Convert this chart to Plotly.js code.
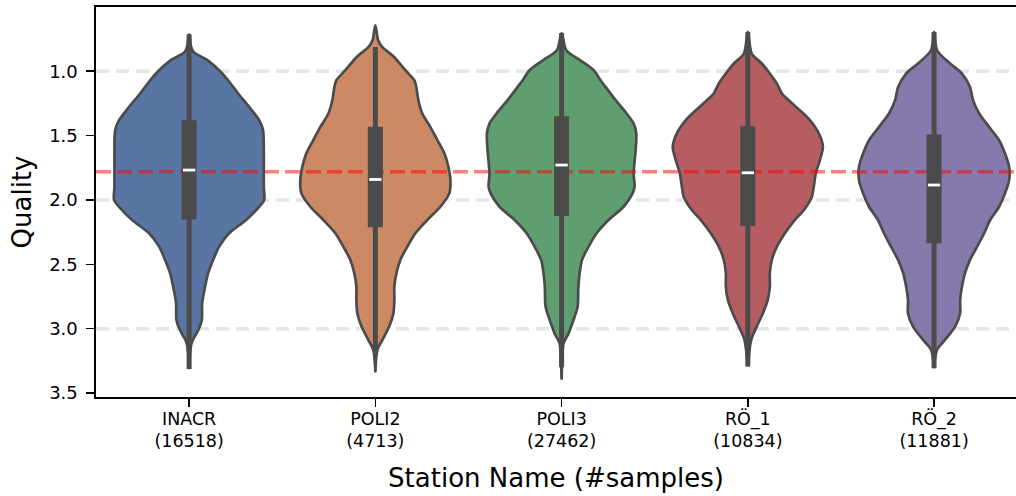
<!DOCTYPE html>
<html>
<head>
<meta charset="utf-8">
<script src="https://cdn.plot.ly/plotly-3.0.1.min.js"></script>
<style>
  html, body { margin: 0; padding: 0; background: #ffffff; }
  #chart { width: 1016px; height: 496px; }
</style>
</head>
<body>
<div id="chart"></div>
<script>
// Quality distribution per station, violin with inner box summary
const stations = ['INACR', 'POLI2', 'POLI3', 'RÖ_1', 'RÖ_2'];
const sampleCounts = [16518, 4713, 27462, 10834, 11881];
const fillColors = ['#5975a4', '#cc8963', '#5f9e6e', '#b55d60', '#857aab'];

// box summary (quartiles, median, whisker ends)
const q1 = [1.380, 1.432, 1.349, 1.427, 1.491];
const median = [1.768, 1.841, 1.729, 1.789, 1.884];
const q3 = [2.151, 2.213, 2.125, 2.202, 2.337];
const whiskerLow = [0.713, 0.811, 0.703, 0.695, 0.695];
const whiskerHigh = [3.314, 3.180, 3.300, 3.294, 3.307];

// overall mean quality (reference line)
const overallMean = 1.781;
// dashed reference levels
const refLevels = [1.0, 2.0, 3.0];

// density profiles: quality levels and half-widths (category units)
const inacrLevels = [0.713, 0.811, 0.850, 0.915, 0.992, 1.070, 1.173, 1.277, 1.380, 1.458, 1.639, 1.897, 2.001, 2.053, 2.156, 2.259, 2.363, 2.466, 2.569, 2.673, 2.802, 2.932, 3.009, 3.087, 3.126, 3.190, 3.314];
const inacrHalfWidth = [0, 0.011, 0.023, 0.100, 0.161, 0.209, 0.263, 0.322, 0.376, 0.397, 0.401, 0.401, 0.403, 0.376, 0.306, 0.215, 0.161, 0.129, 0.102, 0.086, 0.070, 0.068, 0.050, 0.020, 0.011, 0.005, 0];

const poli2Levels = [0.643, 0.760, 0.811, 0.889, 0.992, 1.070, 1.122, 1.225, 1.328, 1.432, 1.535, 1.639, 1.742, 1.846, 1.949, 2.053, 2.156, 2.259, 2.363, 2.466, 2.569, 2.673, 2.777, 2.880, 2.984, 3.087, 3.164, 3.340];
const poli2HalfWidth = [0, 0.015, 0.036, 0.100, 0.161, 0.209, 0.220, 0.231, 0.252, 0.295, 0.333, 0.371, 0.392, 0.403, 0.397, 0.349, 0.279, 0.215, 0.172, 0.134, 0.113, 0.102, 0.102, 0.097, 0.074, 0.038, 0.011, 0];

const poli3Levels = [0.703, 0.837, 0.915, 0.992, 1.070, 1.122, 1.225, 1.328, 1.406, 1.483, 1.639, 1.794, 1.897, 1.949, 2.053, 2.156, 2.259, 2.363, 2.466, 2.569, 2.673, 2.828, 2.932, 3.035, 3.113, 3.220, 3.397];
const poli3HalfWidth = [0, 0.025, 0.100, 0.172, 0.209, 0.236, 0.290, 0.349, 0.387, 0.401, 0.396, 0.387, 0.392, 0.381, 0.333, 0.252, 0.188, 0.145, 0.110, 0.097, 0.090, 0.086, 0.064, 0.038, 0.011, 0.004, 0];

const ro1Levels = [0.695, 0.863, 0.940, 1.018, 1.095, 1.173, 1.225, 1.303, 1.380, 1.483, 1.587, 1.690, 1.794, 1.897, 1.975, 2.078, 2.156, 2.259, 2.363, 2.466, 2.569, 2.673, 2.777, 2.880, 2.984, 3.087, 3.294];
const ro1HalfWidth = [0, 0.021, 0.075, 0.118, 0.156, 0.183, 0.220, 0.279, 0.333, 0.381, 0.403, 0.387, 0.365, 0.354, 0.344, 0.301, 0.252, 0.199, 0.156, 0.129, 0.118, 0.118, 0.107, 0.081, 0.048, 0.018, 0];

const ro2Levels = [0.695, 0.837, 0.940, 1.018, 1.122, 1.225, 1.328, 1.432, 1.535, 1.639, 1.742, 1.846, 1.949, 2.053, 2.156, 2.259, 2.363, 2.466, 2.569, 2.673, 2.777, 2.880, 2.984, 3.087, 3.164, 3.307];
const ro2HalfWidth = [0, 0.016, 0.086, 0.150, 0.193, 0.209, 0.242, 0.295, 0.349, 0.381, 0.403, 0.403, 0.381, 0.349, 0.301, 0.269, 0.231, 0.193, 0.166, 0.150, 0.140, 0.140, 0.113, 0.059, 0.016, 0];

const yTicks = [1.0, 1.5, 2.0, 2.5, 3.0, 3.5];

const profiles = [
  [inacrLevels, inacrHalfWidth],
  [poli2Levels, poli2HalfWidth],
  [poli3Levels, poli3HalfWidth],
  [ro1Levels, ro1HalfWidth],
  [ro2Levels, ro2HalfWidth]
];

const edgeColor = '#4b4b4b';
const font = 'DejaVu Sans, Liberation Sans, sans-serif';
const traces = [];

// violin bodies
profiles.forEach(([levels, hw], i) => {
  const xs = levels.map((_, k) => i - hw[k]).concat(levels.map((_, k) => i + hw[k]).reverse());
  const ys = levels.concat(levels.slice().reverse());
  traces.push({
    type: 'scatter', mode: 'lines', x: xs, y: ys,
    fill: 'toself', fillcolor: fillColors[i],
    line: { color: edgeColor, width: 2.7, shape: 'spline', smoothing: 0.8 },
    hoverinfo: 'skip', showlegend: false
  });
});

// mean reference line, drawn over the violins
traces.push({
  type: 'scatter', mode: 'lines',
  x: [-0.5, stations.length - 0.5], y: [overallMean, overallMean],
  line: { color: 'rgba(255,0,0,0.5)', width: 3.5, dash: '15px,6px' },
  hoverinfo: 'skip', showlegend: false
});

// inner box: whiskers, interquartile box, median tick
stations.forEach((_, i) => {
  traces.push({
    type: 'scatter', mode: 'lines', x: [i, i], y: [whiskerLow[i], whiskerHigh[i]],
    line: { color: edgeColor, width: 5 }, hoverinfo: 'skip', showlegend: false
  });
  traces.push({
    type: 'scatter', mode: 'lines', x: [i, i], y: [q1[i], q3[i]],
    line: { color: edgeColor, width: 15 }, hoverinfo: 'skip', showlegend: false
  });
  traces.push({
    type: 'scatter', mode: 'lines', x: [i - 0.033, i + 0.033], y: [median[i], median[i]],
    line: { color: '#ffffff', width: 2.8 }, hoverinfo: 'skip', showlegend: false
  });
});

const shapes = refLevels.map(v => ({
  type: 'line', xref: 'paper', x0: 0, x1: 1, yref: 'y', y0: v, y1: v,
  layer: 'below', line: { color: '#e6e6e6', width: 3.5, dash: '13px,7px' }
}));

const layout = {
  width: 1016, height: 496,
  margin: { l: 96, r: 0, t: 7, b: 99 },
  paper_bgcolor: '#ffffff', plot_bgcolor: '#ffffff',
  font: { family: font, color: '#000000', size: 18 },
  showlegend: false,
  shapes: shapes,
  xaxis: {
    range: [-0.5, 4.44], autorange: false,
    tickmode: 'array', tickvals: stations.map((_, i) => i),
    ticktext: stations.map((s, i) => s + '<br>(' + sampleCounts[i] + ')'),
    ticks: 'outside', ticklen: 8, tickwidth: 1.5, tickcolor: '#000000',
    ticklabelstandoff: -3,
    showline: true, linecolor: '#000000', linewidth: 1.6, mirror: true,
    showgrid: false, zeroline: false,
    tickfont: { family: font, size: 17.5, color: '#000000' },
    title: { text: 'Station Name (#samples)', font: { family: font, size: 26, color: '#000000' }, standoff: 18 }
  },
  yaxis: {
    range: [3.531, 0.501], autorange: false,
    tickmode: 'array', tickvals: yTicks, ticktext: yTicks.map(v => v.toFixed(1)),
    ticks: 'outside', ticklen: 8, tickwidth: 1.5, tickcolor: '#000000',
    ticklabelstandoff: 5,
    showline: true, linecolor: '#000000', linewidth: 1.6, mirror: false,
    showgrid: false, zeroline: false,
    tickfont: { family: font, size: 18, color: '#000000' },
    title: { text: 'Quality', font: { family: font, size: 26, color: '#000000' }, standoff: 10 }
  }
};

Plotly.newPlot('chart', traces, layout, { staticPlot: true, displayModeBar: false });
</script>
</body>
</html>
